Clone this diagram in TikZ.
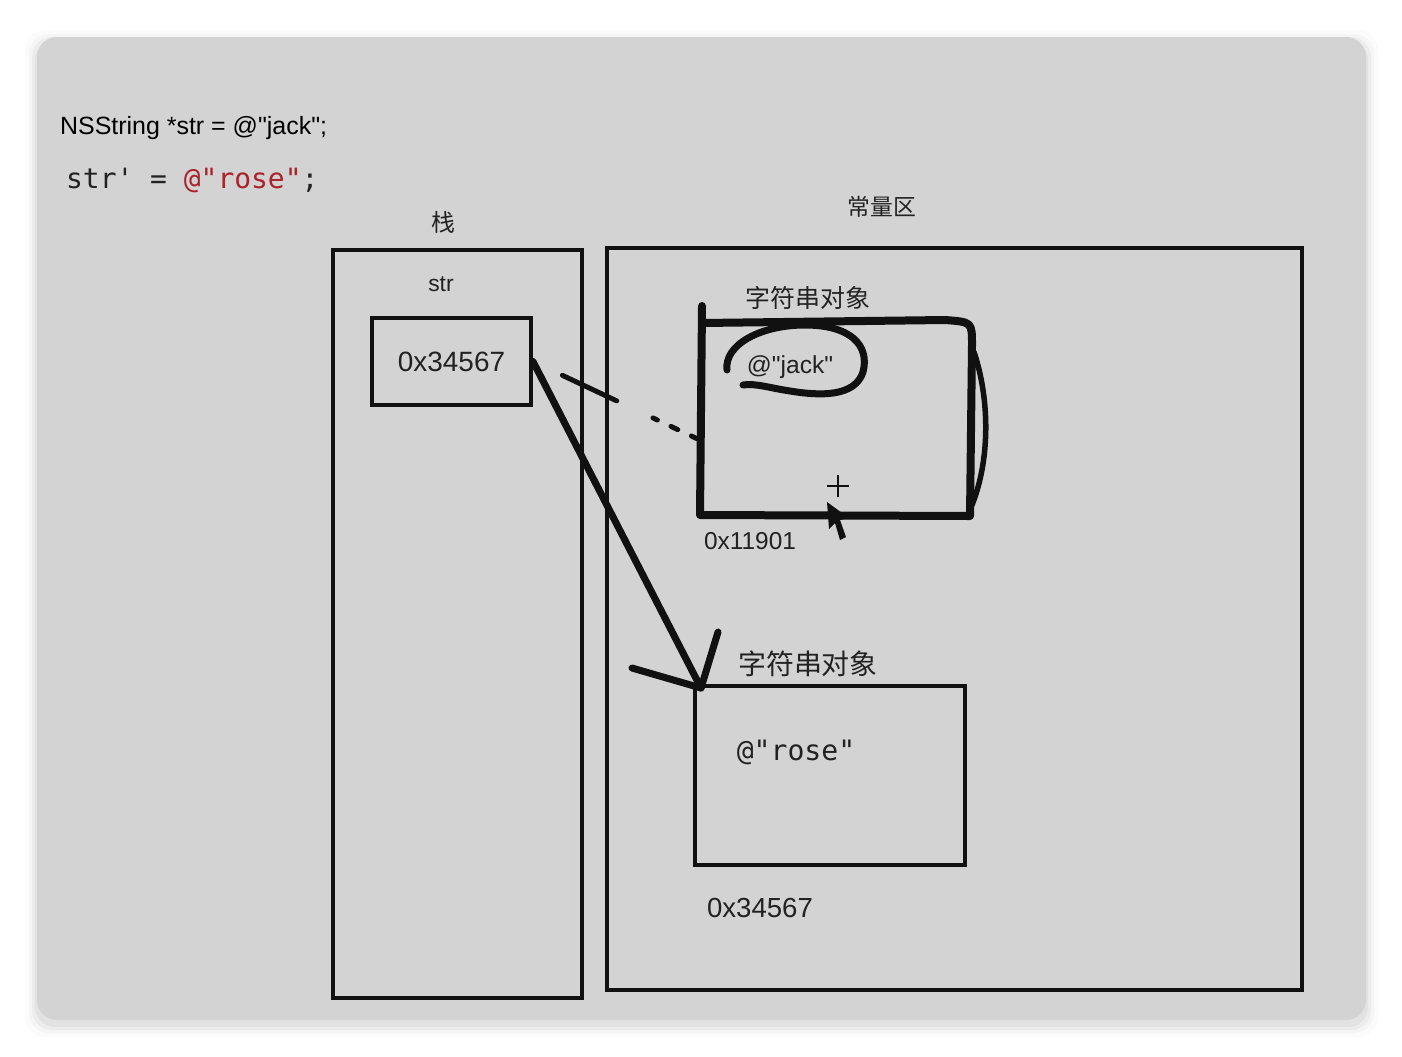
\documentclass[tikz,border=0pt]{standalone}
\usepackage{fontspec}
\setmainfont{Liberation Sans}
\setmonofont{DejaVu Sans Mono}
\newfontfamily\cjkfont{Noto Sans CJK SC}
\usepackage{tikz}
\usetikzlibrary{positioning, fit, calc}
\definecolor{panelgray}{HTML}{D3D3D3}
\definecolor{inkblack}{HTML}{111111}
\definecolor{strred}{HTML}{A8232B}
\definecolor{textgray}{HTML}{222222}
\newcommand{\dq}{\textquotedbl}

\begin{document}
\begin{tikzpicture}[
   x=0.2mm, y=-0.2mm,
   membox/.style = {draw=inkblack, line width=0.8mm, inner sep=0pt},
   handbox/.style = {draw=none, inner sep=0pt},
   lbl/.style    = {text=textgray, inner sep=1pt},
   cjk/.style    = {lbl, font=\cjkfont\fontsize{#1}{#1}\selectfont},
   addr/.style   = {lbl, font=\fontsize{#1}{#1}\selectfont},
   pen/.style    = {draw=inkblack, line width=1.6mm, line cap=round, line join=round}]
  \useasboundingbox (0,0) rectangle (1402,1056);

  % panel with a soft shadow
  \foreach \s/\o in {12/0.015, 8/0.025, 5/0.035, 2/0.045}
    \fill[black, opacity=\o, rounded corners=4mm] ({37-\s},{37-\s+5}) rectangle ({1366+\s},{1020+\s+5});
  \fill[panelgray, rounded corners=4mm] (37,37) rectangle (1366,1020);

  % code lines
  \node[lbl, anchor=west, text=black, font=\fontsize{14.2}{16}\selectfont] (codejack) at (58,128) {NSString *str = @\dq jack\dq;};
  \node[lbl, anchor=west, font=\ttfamily\fontsize{15.9}{18}\selectfont] (coderose) at (64,180)
       {str' = \textcolor{strred}{@\dq rose\dq};};

  % stack
  \node[membox, fit={(333,250) (582,998)}] (stack) {};
  \node[cjk=13.6] (stacklbl) at (443,222) {栈};
  \node[addr=13] (strlbl) at (441,284) {str};
  \node[membox, fit={(372,318) (531,405)}] (strbox) {};
  \node[addr=15.9] (ptrval) at (strbox.center) {0x34567};

  % constant area
  \node[membox, fit={(607,248) (1302,990)}] (constarea) {};
  \node[cjk=13] (constlbl) at (882,207) {常量区};

  % old object @"jack"
  \node[handbox, fit={(701,322) (971,515)}] (jackobj) {};
  \node[cjk=14.2] (jacktitle) at (808,298) {字符串对象};
  \node[addr=14] (jackstr) at (790,367) {@\dq jack\dq};
  \node[addr=13.9] (jackaddr) at (750,541) {0x11901};
  \draw[pen] (702,306) -- (700,515) -- (970,516) -- (972,345)
       .. controls (972,322) .. (945,320) -- (702,323);
  \draw[pen, line width=1.1mm] (974,352) .. controls (990,400) and (990,460) .. (972,505);
  \draw[pen, line width=1.4mm] (727,370) .. controls (724,345) and (760,325) .. (805,325)
       .. controls (850,325) and (870,345) .. (863,372)
       .. controls (855,397) and (820,396) .. (790,391)
       .. controls (770,388) and (755,383) .. (743,385);
  \draw[inkblack, line width=0.25mm] (827,486) -- (849,486) (838,475) -- (838,497);
  \fill[inkblack] (827,502) -- (829,529) -- (835,523) -- (840,540) -- (846,537)
       -- (840,520) -- (849,518) -- cycle;

  % new object @"rose"
  \node[membox, fit={(695,686) (965,865)}] (roseobj) {};
  \node[cjk=15.9] (rosetitle) at (808,664) {字符串对象};
  \node[lbl, font=\ttfamily\fontsize{16}{18}\selectfont] (rosestr) at (796,752) {@\dq rose\dq};
  \node[addr=15.7] (roseaddr) at (760,908) {0x34567};

  % pointers: the old one rubbed out, the new one drawn by hand
  \draw[inkblack, line width=1mm, line cap=round,
        dash pattern=on 0mm off 6.5mm on 12mm off 8mm on 1mm off 3mm on 1.5mm off 3mm on 2mm off 20mm]
       (strbox.east) -- ($(jackobj.west)+(-4,20)$);
  \coordinate (tip) at ($(roseobj.north west)+(8,4)$);
  \draw[pen, line width=1.4mm] (strbox.east) -- (tip);
  \draw[pen, line width=1.4mm] (tip) -- ++(17,-56);
  \draw[pen, line width=1.4mm] (tip) -- ++(-69,-20);
\end{tikzpicture}
\end{document}
